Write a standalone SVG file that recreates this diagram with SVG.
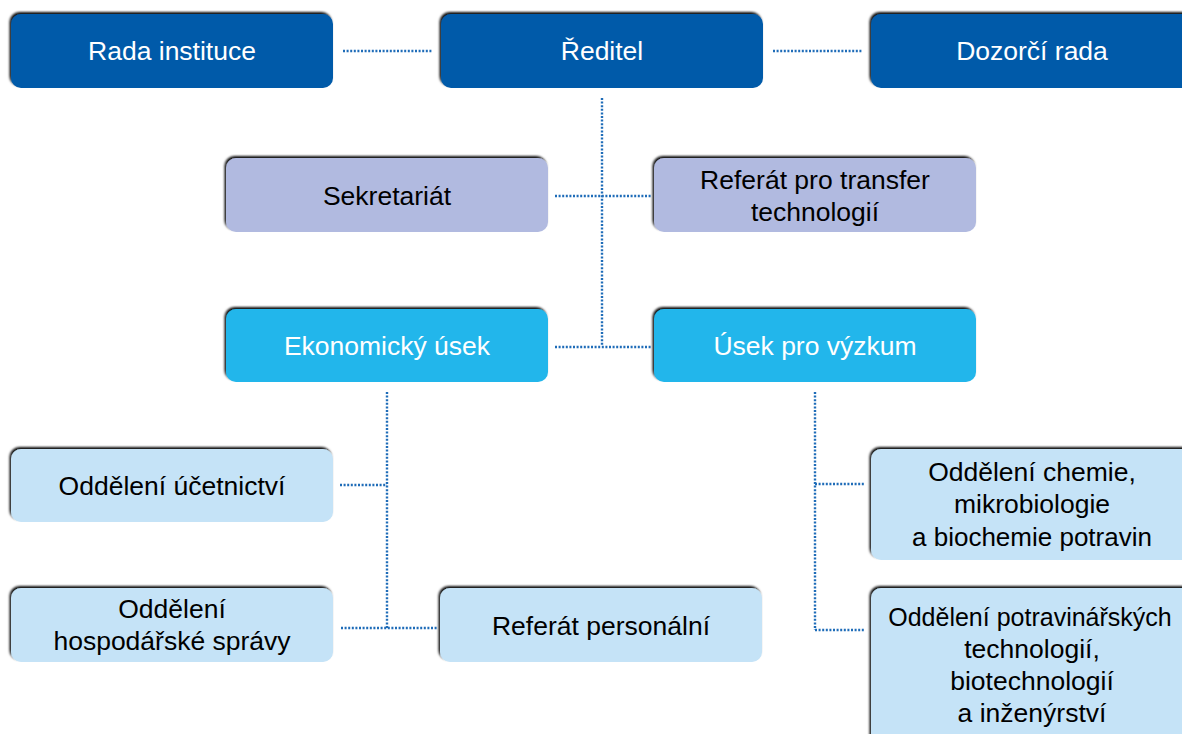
<svg xmlns="http://www.w3.org/2000/svg" width="1182" height="734" viewBox="0 0 1182 734">
<defs>
<filter id="sh" x="-5%" y="-10%" width="110%" height="120%">
<feDropShadow dx="-1.5" dy="-2" stdDeviation="1.1" flood-color="#000" flood-opacity="0.95"/>
</filter>
<style>
.box{filter:url(#sh)}
.dark{fill:#005aa9}
.lav{fill:#b1bae0}
.cyan{fill:#22b6eb}
.light{fill:#c5e3f7}
text{font-family:"Liberation Sans",Arial,sans-serif;font-size:26.5px;text-anchor:middle}
.w{fill:#fff}
.k{fill:#000}
.con line{stroke:#1e6cb8;stroke-width:2.4;stroke-dasharray:2 1.6;fill:none}
</style>
</defs>
<rect width="1182" height="734" fill="#fff"/>
<g class="con">
<line x1="343" y1="51" x2="433" y2="51"/>
<line x1="773" y1="51" x2="862" y2="51"/>
<line x1="602" y1="98" x2="602" y2="346"/>
<line x1="555" y1="196" x2="651" y2="196"/>
<line x1="555" y1="347" x2="651" y2="347"/>
<line x1="387" y1="392" x2="387" y2="628"/>
<line x1="340" y1="485" x2="387" y2="485"/>
<line x1="341" y1="628" x2="437" y2="628"/>
<line x1="815" y1="392" x2="815" y2="630"/>
<line x1="815" y1="484" x2="865" y2="484"/>
<line x1="815" y1="630" x2="865" y2="630"/>
</g>
<g id="rada">
<rect class="box dark" x="11" y="14" width="322" height="74" rx="10"/>
<text class="w" x="172" y="60">Rada instituce</text>
</g>
<g id="reditel">
<rect class="box dark" x="441" y="14" width="322" height="74" rx="10"/>
<text class="w" x="602" y="60">Ředitel</text>
</g>
<g id="dozorci">
<rect class="box dark" x="871" y="14" width="330" height="74" rx="10"/>
<text class="w" x="1032" y="60">Dozorčí rada</text>
</g>
<g id="sekretariat">
<rect class="box lav" x="226" y="158" width="322" height="74" rx="10"/>
<text class="k" x="387" y="205">Sekretariát</text>
</g>
<g id="referat-transfer">
<rect class="box lav" x="654" y="158" width="322" height="74" rx="10"/>
<text class="k" x="815" y="189">Referát pro transfer</text>
<text class="k" x="815" y="221">technologií</text>
</g>
<g id="ekonomicky">
<rect class="box cyan" x="226" y="309" width="322" height="73" rx="10"/>
<text class="w" x="387" y="355">Ekonomický úsek</text>
</g>
<g id="vyzkum">
<rect class="box cyan" x="654" y="309" width="322" height="73" rx="10"/>
<text class="w" x="815" y="355">Úsek pro výzkum</text>
</g>
<g id="ucetnictvi">
<rect class="box light" x="11" y="449" width="322" height="73" rx="10"/>
<text class="k" x="172" y="495">Oddělení účetnictví</text>
</g>
<g id="hospodarska">
<rect class="box light" x="11" y="588" width="322" height="74" rx="10"/>
<text class="k" x="172" y="618">Oddělení</text>
<text class="k" x="172" y="650">hospodářské správy</text>
</g>
<g id="personalni">
<rect class="box light" x="440" y="588" width="322" height="74" rx="10"/>
<text class="k" x="601" y="635">Referát personální</text>
</g>
<g id="chemie">
<rect class="box light" x="871" y="449" width="330" height="111" rx="10"/>
<text class="k" x="1032" y="481">Oddělení chemie,</text>
<text class="k" x="1032" y="513">mikrobiologie</text>
<text class="k" x="1032" y="546" style="font-size:26px">a biochemie potravin</text>
</g>
<g id="potravinarske">
<rect class="box light" x="871" y="588" width="330" height="160" rx="10"/>
<text class="k" x="1030" y="626" style="font-size:25px">Oddělení potravinářských</text>
<text class="k" x="1032" y="658">technologií,</text>
<text class="k" x="1032" y="690">biotechnologií</text>
<text class="k" x="1032" y="722">a inženýrství</text>
</g>
</svg>
